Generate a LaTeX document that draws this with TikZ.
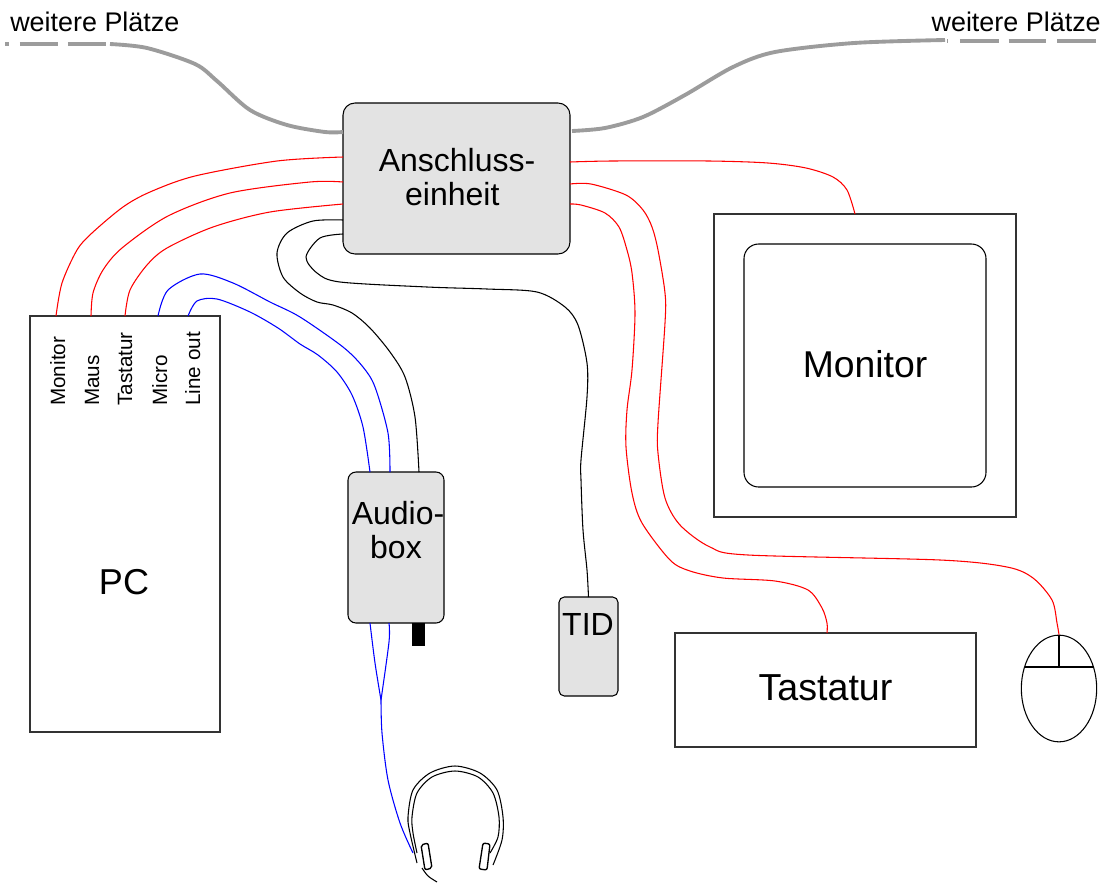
\documentclass[tikz,border=0pt]{standalone}
\usepackage{fontspec}
\setmainfont{Liberation Sans}
\usetikzlibrary{positioning,shapes.geometric}
\definecolor{boxgrey}{HTML}{E3E3E3}
\definecolor{linegrey}{HTML}{9C9C9C}
\newcommand{\fsize}[1]{\fontsize{#1}{#1}\selectfont}

\begin{document}
\begin{tikzpicture}[
    x=0.75pt, y=-0.75pt,
    panel/.style n args={2}{
        draw=black!80, line width=0.8pt, inner sep=0pt, outer sep=0pt, align=center,
        minimum width=#1*0.75pt, minimum height=#2*0.75pt
      },
    unit/.style={fill=boxgrey, draw=black, rounded corners=#1},
    title/.style={inner sep=0pt, align=center, font=\fsize{#1}},
    port/.style={rotate=90, anchor=base west, inner sep=0pt, font=\fsize{15.5pt}},
    net/.style={line width=2.9pt, linegrey},
    redcable/.style={red, line width=0.8pt},
    bluecable/.style={blue, line width=0.8pt},
    blackcable/.style={black, line width=0.8pt},
  ]
  \useasboundingbox (0,0) rectangle (1103,882);

  \node [panel={190}{416}] (PC) at (125,524) {};
  \node [panel={227}{151}, unit=9pt] (ANSCHLUSS) at (456.5,178.5) {};
  \node [panel={96}{151}, unit=6pt] (AUDIO) at (396,547.5) {};
  \node [panel={59}{99}, unit=4pt] (TID) at (588.5,646.5) {};
  \node [panel={301}{114}, font=\fsize{28.2pt}, text depth=3pt] (TASTATUR) at (825.5,690) {Tastatur};
  \node [panel={302}{303}] (FRAME) at (865,365.5) {};
  \node [panel={242}{243}, draw=black, rounded corners=11pt, font=\fsize{28pt}, text depth=3pt] (SCREEN) at (865,365.5) {Monitor};
  \node [draw=black, fill=black, inner sep=0pt, minimum width=9pt, minimum height=16.5pt, below=0pt of AUDIO.south east, xshift=-19.5pt] (PLUG) {};
  \node [ellipse, draw=black, line width=0.8pt, inner sep=0pt, minimum width=56.5pt, minimum height=80pt] (MOUSE) at (1059,688.5) {};

  \node [title=27pt] (PCTITLE) at (124,582) {PC};
  \node [title=24pt] (ANSCHLUSSTITLE) at (457,177) {Anschluss-\\[2pt]einheit\hspace*{7pt}};
  \node [title=24pt] (AUDIOTITLE) at (396,530) {\hspace{3pt}Audio-\\[2pt]box};
  \node [title=24pt] (TIDTITLE) at (588,624) {TID};

  \node [inner sep=0pt, anchor=base west, font=\fsize{20.2pt}] (MORELEFT) at (10,31) {weitere Plätze};
  \node [inner sep=0pt, anchor=base east, font=\fsize{20.2pt}] (MORERIGHT) at (1101,31) {weitere Plätze};

  \node [port] (LMONITOR) at (65,406) {Monitor};
  \node [port] (LMAUS) at (99,406) {Maus};
  \node [port] (LTASTATUR) at (132,406) {Tastatur};
  \node [port] (LMICRO) at (167,406) {Micro};
  \node [port] (LLINE) at (200,406) {Line out};

  \coordinate (NETA) at (343,132);
  \coordinate (NETB) at (572,131);
  \coordinate (NETC) at (110,44);
  \coordinate (NETD) at (945,40);
  \coordinate (NETE) at (5,44);
  \coordinate (NETF) at (106,44);
  \coordinate (NETG) at (947,41);
  \coordinate (NETH) at (1097,41);
  \coordinate (OUTA) at (343,157);
  \coordinate (OUTB) at (343,182);
  \coordinate (OUTC) at (343,204);
  \coordinate (OUTD) at (343,220);
  \coordinate (OUTE) at (343,234);
  \coordinate (OUTF) at (570,162);
  \coordinate (OUTG) at (570,184);
  \coordinate (OUTH) at (570,204);
  \coordinate (PCA) at (56,316);
  \coordinate (PCB) at (91,316);
  \coordinate (PCC) at (125,316);
  \coordinate (PCD) at (158,316);
  \coordinate (PCE) at (188,316);
  \coordinate (BOXA) at (370,472);
  \coordinate (BOXB) at (390,472);
  \coordinate (BOXC) at (419,472);
  \coordinate (BOXD) at (370,623);
  \coordinate (BOXE) at (389,623);
  \coordinate (JOIN) at (381,700);
  \coordinate (HEAD) at (413,853);

  % grey network lines
  \draw [net] plot[smooth] coordinates {(NETC) (147,48) (195,64) (217,81) (250,110) (287,125) (325,132) (NETA)};
  \draw [net] plot[smooth] coordinates {(NETB) (605,128) (643,117) (685,95) (733,67) (775,52) (854,43) (NETD)};
  \draw [net, dash pattern=on 3pt off 8.2pt on 28.5pt off 7.5pt on 28.5pt off 100pt] (NETE) -- (NETF);
  \draw [net, dash pattern=on 0.7pt off 9pt on 29pt off 7.5pt on 28pt off 8.5pt on 29pt off 100pt] (NETG) -- (NETH);

  % PC to Anschlusseinheit
  \draw [redcable] plot[smooth] coordinates {(OUTA) (277,161) (195,176) (150,192) (123,207) (92,233) (77,250) (62,283) (PCA)};
  \draw [redcable] plot[smooth] coordinates {(OUTB) (310,182) (230,193) (168,216) (122,248) (103,270) (93,293) (PCB)};
  \draw [redcable] plot[smooth] coordinates {(OUTC) (270,212) (213,227) (167,248) (147,265) (130,290) (PCC)};

  % Anschlusseinheit to the devices
  \draw [redcable] plot[smooth] coordinates {(OUTF) (612,161) (709,161) (768,163) (806,168) (833,177) (847,190) (855,214)};
  \draw [redcable] plot[smooth] coordinates {(OUTG) (591,184) (626,195) (643,210) (652,227) (658,250) (665,293) (665,323) (658,423) (658,453) (665,498) (680,525) (710,547) (748,555) (940,560) (1007,567) (1033,578) (1052,600) (1057,623) (MOUSE.north)};
  \draw [redcable] plot[smooth] coordinates {(OUTH) (581,205) (605,213) (619,227) (627,250) (632,273) (635,313) (632,370) (627,410) (626,447) (632,493) (642,523) (670,560) (690,571) (723,578) (775,581) (808,590) (822,608) (827,623) (827,633)};

  % black cables
  \draw [blackcable] plot[smooth] coordinates {(OUTD) (313,221) (287,233) (277,253) (283,277) (300,293) (317,302) (333,305) (352,313) (370,328) (390,352) (405,377) (415,417) (BOXC)};
  \draw [blackcable] plot[smooth] coordinates {(OUTE) (320,238) (306,257) (317,273) (340,282) (427,287) (487,289) (537,292) (565,307) (578,325) (587,363) (587,397) (581,460) (581,480) (583,530) (587,570) (TID.north)};

  % blue cables
  \draw [bluecable] plot[smooth] coordinates {(PCD) (168,290) (200,274) (233,283) (270,302) (300,317) (343,347) (363,367) (375,387) (388,433) (BOXB)};
  \draw [bluecable] plot[smooth] coordinates {(PCE) (197,301) (217,299) (250,312) (278,328) (300,344) (318,355) (337,372) (352,395) (363,427) (BOXA)};
  \draw [bluecable] plot[smooth] coordinates {(BOXD) (375,663) (JOIN)};
  \draw [bluecable] plot[smooth] coordinates {(BOXE) (389,642) (JOIN)};
  \draw [bluecable] plot[smooth] coordinates {(JOIN) (382,733) (388,780) (400,823) (HEAD)};

  % mouse buttons
  \coordinate (BUTTONL) at (1025,667);
  \coordinate (BUTTONR) at (1093,667);
  \draw [line width=0.8pt] (BUTTONL) -- (BUTTONR);
  \draw [line width=0.8pt] (MOUSE.north) -- (MOUSE.north |- BUTTONL);

  % headphones
  \draw [line width=0.8pt] plot[smooth] coordinates {(417,863) (410,833) (408,817) (413,790) (430,773) (455,766) (480,773) (497,790) (503,817) (502,840) (493,865)};
  \draw [line width=0.8pt] plot[smooth] coordinates {(417,853) (413,833) (412,817) (417,793) (432,777) (455,771) (478,777) (493,793) (499,817) (498,837) (490,853)};
  \draw [line width=1pt, fill=white, rounded corners=1.5pt] (421,845) -- (428,843) -- (432,868) -- (425,870) -- cycle;
  \draw [line width=1pt, fill=white, rounded corners=1.5pt] (483,843) -- (490,844) -- (487,870) -- (479,869) -- cycle;
  \draw [line width=0.8pt] plot[smooth] coordinates {(422,868) (428,876) (437,882)};
\end{tikzpicture}
\end{document}
